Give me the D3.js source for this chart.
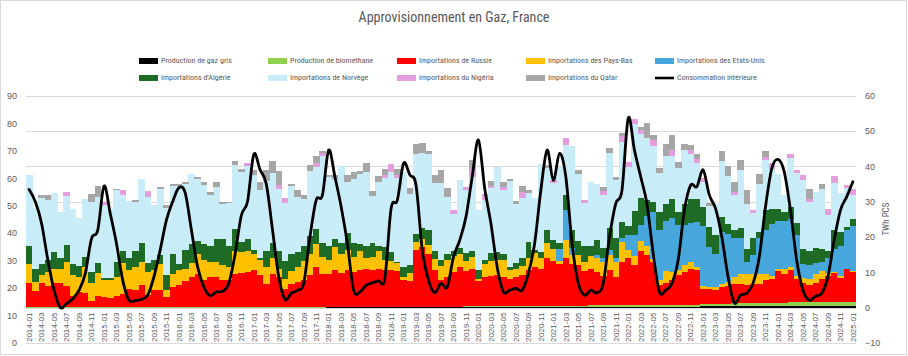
<!DOCTYPE html>
<html><head><meta charset="utf-8">
<script src="https://cdn.jsdelivr.net/npm/d3@7"></script>
<style>
html,body{margin:0;padding:0;background:#fff;}
svg{display:block;font-family:"Liberation Sans Narrow","Arial Narrow","Roboto Condensed","Liberation Sans",sans-serif;}
</style></head><body>
<svg id="chart" width="908" height="356"></svg>
<script>
const categories = [
"2014-01","2014-02","2014-03","2014-04","2014-05","2014-06","2014-07","2014-08","2014-09","2014-10","2014-11","2014-12",
"2015-01","2015-02","2015-03","2015-04","2015-05","2015-06","2015-07","2015-08","2015-09","2015-10","2015-11","2015-12",
"2016-01","2016-02","2016-03","2016-04","2016-05","2016-06","2016-07","2016-08","2016-09","2016-10","2016-11","2016-12",
"2017-01","2017-02","2017-03","2017-04","2017-05","2017-06","2017-07","2017-08","2017-09","2017-10","2017-11","2017-12",
"2018-01","2018-02","2018-03","2018-04","2018-05","2018-06","2018-07","2018-08","2018-09","2018-10","2018-11","2018-12",
"2019-01","2019-02","2019-03","2019-04","2019-05","2019-06","2019-07","2019-08","2019-09","2019-10","2019-11","2019-12",
"2020-01","2020-02","2020-03","2020-04","2020-05","2020-06","2020-07","2020-08","2020-09","2020-10","2020-11","2020-12",
"2021-01","2021-02","2021-03","2021-04","2021-05","2021-06","2021-07","2021-08","2021-09","2021-10","2021-11","2021-12",
"2022-01","2022-02","2022-03","2022-04","2022-05","2022-06","2022-07","2022-08","2022-09","2022-10","2022-11","2022-12",
"2023-01","2023-02","2023-03","2023-04","2023-05","2023-06","2023-07","2023-08","2023-09","2023-10","2023-11","2023-12",
"2024-01","2024-02","2024-03","2024-04","2024-05","2024-06","2024-07","2024-08","2024-09","2024-10","2024-11","2024-12",
"2025-01"];

// TWh PCS (right axis)
const gazGris = [
0.02,0.02,0.02,0.02,0.02,0.02,0.02,0.02,0.02,0.02,0.02,0.02,
0.02,0.02,0.02,0.02,0.02,0.02,0.02,0.02,0.02,0.02,0.02,0.02,
0.02,0.02,0.02,0.02,0.02,0.02,0.02,0.02,0.02,0.02,0.02,0.02,
0.02,0.02,0.02,0.02,0.02,0.02,0.02,0.02,0.02,0.02,0.02,0.02,
0.05,0.05,0.05,0.05,0.05,0.05,0.05,0.05,0.05,0.05,0.05,0.05,
0.05,0.05,0.05,0.05,0.05,0.05,0.05,0.05,0.05,0.05,0.05,0.05,
0.05,0.05,0.05,0.05,0.05,0.05,0.05,0.05,0.05,0.05,0.05,0.05,
0.1,0.1,0.1,0.1,0.1,0.1,0.1,0.1,0.1,0.1,0.1,0.1,
0.15,0.15,0.15,0.15,0.15,0.15,0.15,0.15,0.15,0.15,0.15,0.15,
0.35,0.35,0.35,0.35,0.35,0.35,0.35,0.35,0.35,0.35,0.35,0.35,
0.55,0.55,0.55,0.55,0.55,0.55,0.55,0.55,0.55,0.55,0.55,0.55,
0.5];
const biomethane = [
0.04,0.04,0.04,0.04,0.05,0.05,0.05,0.05,0.05,0.05,0.06,0.06,
0.06,0.06,0.06,0.06,0.06,0.06,0.06,0.07,0.07,0.07,0.07,0.07,
0.07,0.07,0.08,0.08,0.08,0.08,0.08,0.08,0.09,0.09,0.09,0.09,
0.09,0.09,0.1,0.1,0.1,0.1,0.1,0.1,0.11,0.11,0.12,0.12,
0.12,0.13,0.13,0.14,0.14,0.15,0.15,0.16,0.16,0.17,0.18,0.18,
0.19,0.2,0.21,0.22,0.23,0.24,0.25,0.26,0.27,0.28,0.29,0.3,
0.3,0.31,0.32,0.33,0.34,0.35,0.36,0.37,0.38,0.39,0.4,0.41,
0.42,0.44,0.46,0.48,0.5,0.5,0.52,0.53,0.55,0.57,0.58,0.6,
0.6,0.6,0.62,0.63,0.64,0.65,0.66,0.67,0.68,0.7,0.7,0.72,
0.75,0.77,0.79,0.8,0.82,0.84,0.85,0.86,0.87,0.88,0.89,0.9,
0.9,0.91,0.92,0.93,0.94,0.95,0.96,0.97,0.97,0.98,0.98,0.99,
1.0];
const russie = [
6.9,4.8,6.9,6.2,6.9,6.9,6.2,3.1,4.3,4.0,1.7,3.1,
2.9,2.7,3.1,3.7,5.3,4.8,6.2,3.4,4.8,5.0,2.9,5.7,
6.2,7.5,8.6,9.5,7.8,8.7,8.7,7.6,7.8,9.5,9.7,10.0,
10.5,9.0,6.5,9.3,8.7,5.3,6.7,7.2,7.8,9.0,11.4,9.5,
9.4,10.6,9.6,10.6,9.9,10.4,10.8,10.4,10.6,10.4,10.4,10.2,
7.6,7.3,16.1,16.9,15.0,10.5,7.4,8.4,9.8,11.2,10.1,10.5,
7.2,8.3,8.7,9.0,8.3,7.8,8.3,8.7,10.2,11.1,10.4,13.5,
12.8,11.8,13.6,11.9,11.4,9.9,10.4,9.4,8.4,9.9,7.9,12.2,
13.2,11.2,15.4,14.0,12.0,5.5,6.3,6.9,8.3,9.2,10.0,9.8,
4.2,4.2,4.0,4.6,5.1,5.6,5.6,5.1,5.6,5.6,6.6,6.8,
9.0,8.0,9.3,6.5,5.5,5.0,5.5,6.5,7.5,8.3,7.0,9.3,
8.5];
const paysBas = [
5.5,2.4,2.2,3.8,4.0,4.0,6.6,6.0,4.3,7.4,5.2,6.6,
4.9,5.1,5.6,8.8,5.4,6.6,6.6,6.6,5.7,7.4,2.1,3.6,
4.3,3.4,3.9,5.7,5.5,4.1,4.1,4.3,3.6,6.4,5.9,5.9,
4.7,4.3,4.9,4.5,2.0,2.8,3.5,4.2,5.3,6.2,6.6,4.7,
3.8,6.4,5.5,5.6,4.2,5.4,3.1,3.7,5.2,3.0,2.6,2.2,
0.9,2.2,2.2,2.3,2.6,3.1,4.0,4.7,4.4,3.8,2.8,3.5,
0.6,3.8,4.1,4.2,4.7,2.4,2.1,2.6,3.5,3.8,3.1,4.4,
3.3,0.8,4.9,2.5,2.8,2.5,3.5,4.0,3.8,4.3,4.3,5.7,
2.3,2.8,2.8,2.8,1.1,1.4,3.4,2.3,1.4,1.9,2.1,0.9,
0.8,0.6,0.6,1.0,0.9,1.9,2.8,3.3,2.8,2.8,1.8,1.0,
0.5,1.5,0.7,1.0,1.5,1.5,2.5,2.5,0.8,0.4,0.3,0.2,
0.3];
const etatsUnis = [
0,0,0,0,0,0,0,0,0,0,0,0,
0,0,0,0,0,0,0,0,0,0,0,0,
0,0,0,0,0,0,0,0,0,0,0,0,
0,0,0,0,0,0,0,0,0,0,0,0,
0,0,0,0,0,0,0,0,0,0,0,0,
0,0,0,0,0,0,0,0,0,0,0,0,
0,0,0,0,0,0,0,0,0,0,0,0,
0,3.5,8.5,2.0,0,0,0,0.8,1.1,1.4,1.1,1.0,
4.2,5.7,4.3,8.5,13.1,14.3,13.9,15.5,12.8,11.4,10.9,12.8,
17.1,11.2,9.5,14.6,13.7,11.1,10.2,3.4,5.4,10.0,12.4,14.5,
13.5,13.5,13.5,11.5,4.0,4.0,3.0,2.5,4.2,6.3,8.7,11.0,
12.7];
const algerie = [
5.0,3.6,3.3,3.5,4.7,3.1,5.0,3.3,3.0,3.0,3.1,2.9,
0.6,0.6,4.1,3.4,3.3,4.5,5.4,2.5,2.8,2.3,4.1,5.9,
1.9,5.4,5.3,3.6,4.7,4.5,6.4,7.3,5.9,6.4,2.9,3.5,
1.1,0.7,4.5,4.4,5.2,5.0,5.0,4.2,4.2,4.9,4.0,4.0,
4.0,2.3,3.0,4.7,4.0,1.9,3.3,4.0,1.4,3.6,2.5,0.3,
2.7,2.2,2.2,3.2,4.1,2.1,1.9,1.9,1.5,1.6,2.2,1.7,
2.6,1.1,2.2,2.1,1.9,0.9,1.8,2.2,4.5,1.1,1.8,3.6,
2.4,1.8,4.2,5.0,4.2,4.5,3.0,4.2,2.9,6.2,5.6,4.7,
2.8,7.0,7.7,4.5,3.0,5.0,4.8,5.1,3.7,5.9,7.0,6.5,
5.2,5.6,5.2,4.3,2.9,2.2,2.8,3.7,4.8,1.8,5.5,4.5,
3.5,2.5,3.5,3.5,4.0,4.0,4.5,3.5,2.0,5.5,4.0,0.8,
2.0];
const norvege = [
20.2,17.3,18.5,16.8,16.8,13.0,13.8,15.5,13.8,16.4,19.9,18.7,
20.6,19.5,20.3,16.0,16.1,13.8,18.0,18.7,15.8,18.7,19.0,19.2,
21.9,18.7,19.8,17.4,16.6,14.4,14.9,10.1,12.1,17.9,19.7,20.5,
21.1,19.1,19.9,19.9,17.7,16.3,19.1,15.6,13.3,18.4,17.7,24.6,
19.5,17.0,21.8,14.5,18.2,20.0,21.0,13.3,18.2,19.4,22.8,23.8,
27.0,20.2,22.8,21.2,21.6,19.2,21.7,15.9,10.6,19.3,17.9,20.9,
16.9,17.0,18.5,24.1,18.0,24.3,16.7,17.2,13.8,14.7,24.8,17.6,
16.2,21.5,14.4,23.7,18.8,12.2,18.1,16.1,15.1,21.3,16.6,22.6,
16.6,24.4,18.1,17.5,15.9,11.0,13.8,12.2,12.6,15.3,12.6,10.2,
7.3,6.0,9.0,16.0,13.4,9.9,16.5,12.7,7.0,13.7,14.3,11.2,
10.0,4.8,14.0,14.0,19.6,14.0,15.7,17.2,10.1,13.4,10.8,10.9,
6.8];
const nigeria = [
0,0,0,0,0,0,1.0,0,0,0,0,0,
0.8,0,0,1.2,0,0,0,1.6,0,0,0,0,
0,0,0,0,0,0,0,0,0,0,0,1.0,
0,0,0,0,0.9,1.4,0,0,0,0,1.2,0.9,
0,0,0,0,0,0,0,0,0,0.9,2.0,0.9,
0,0,0,0,0,0,0,0,1.1,0,0.9,2.4,
0,1.7,0.7,0,0.9,0,0,1.6,0,0,0,0,
1.0,0,1.9,0,0,0.9,0,0,1.1,0,0,1.6,
1.4,1.6,1.2,0,1.6,0,0,1.7,0,0,1.3,1.0,
0.9,0,0,0,0,0.9,0,0,0.9,0,0.8,1.7,
0,0,1.1,0.9,1.6,0.9,0,0,1.7,1.9,0,0.9,
1.7];
const qatar = [
0,0,0.8,1.6,0,0,0,0,0,0,2.2,3.0,
0,0,0.5,0,0,0.8,0,0,0,0.8,0.8,0.4,
0.5,0.5,0,0.7,0.9,0.9,1.4,0.5,0.4,1.3,0.9,0,
1.4,2.4,3.0,3.2,4.0,0,0.7,1.9,1.3,1.7,1.9,0.6,
0.7,1.0,0,1.9,1.9,0.7,2.6,1.3,1.6,1.6,0,1.7,
0,1.7,2.8,2.8,0.9,2.4,3.6,2.8,0,0,0,2.4,
0,0,1.4,0,1.4,0.7,0.9,1.6,1.0,0,0,0.8,
0,0,0,0,1.3,0,0,0,1.2,1.4,0.9,0.9,
0,0,0.9,4.3,1.5,1.4,3.2,4.4,1.5,1.9,1.3,1.5,
0,0.9,0,2.6,2.8,2.8,2.8,3.8,0,2.6,1.6,0,
0,0,0,0,0,2.6,0,1.4,0,0,0,0,
0];
// TWh (left axis)
const consommation = [
55.9,51.4,43.5,30.2,19.2,12.9,14.3,16.1,19.2,25.3,38.0,41.1,
57.1,47.1,36.2,22.8,15.6,15.4,15.9,17.4,24.1,33.8,44.7,51.4,
56.5,54.7,41.2,27.7,20.4,17.2,18.6,18.8,21.7,32.2,46.4,51.5,
68.6,63.1,57.9,41.2,24.1,15.9,18.1,19.2,21.7,38.6,52.0,53.8,
70.2,60.5,49.6,36.2,19.2,18.6,21.0,21.9,22.6,23.5,48.9,52.0,
65.4,61.2,57.4,33.8,22.8,18.3,21.7,20.4,31.3,37.4,45.9,60.5,
73.9,56.3,43.5,27.7,18.6,19.2,19.9,19.2,25.3,36.2,55.6,70.2,
59.2,69.0,60.5,36.2,21.7,17.4,19.2,18.3,21.7,38.6,50.7,55.6,
81.8,70.2,60.5,50.7,32.6,18.6,19.2,21.7,30.1,48.3,57.4,56.9,
63.0,53.8,48.9,38.6,24.1,14.6,17.4,18.1,21.7,31.3,49.6,63.5,
66.8,62.3,48.3,30.1,19.2,15.6,17.0,18.1,24.1,37.4,48.3,53.2,
58.7];

const leftTicks = [0,10,20,30,40,50,60,70,80,90];
const rightTicks = [-10,0,10,20,30,40,50,60];
const seriesKeys = ["gris","bio","ru","nl","us","dz","no","ng","qa"];
const seriesNames = ["Production de gaz gris","Production de biométhane","Importations de Russie","Importations des Pays-Bas","Importations des Etats-Unis","Importations d'Algérie","Importations de Norvège","Importations du Nigéria","Importations du Qatar"];
const seriesColors = ["#000000","#92d050","#ff0000","#ffc000","#47a6dc","#1e6b26","#c9ecf9","#e59edd","#a6a6a6"];
const lineName = "Consommation intérieure";
const titleText = "Approvisionnement en Gaz, France";
const rightAxisTitle = "TWh PCS";

const seriesArrays = [gazGris,biomethane,russie,paysBas,etatsUnis,algerie,norvege,nigeria,qatar];
const table = categories.map((c,i)=>{
  const o={cat:c};
  seriesKeys.forEach((k,j)=>o[k]=seriesArrays[j][i]);
  return o;
});

const svg = d3.select("#chart");
const grey = "#595959";
svg.append("rect").attr("x",0.5).attr("y",0.5).attr("width",906).attr("height",354)
  .attr("fill","#fff").attr("stroke","#d9d9d9");

const x = d3.scaleBand().domain(categories).range([26,856]).padding(0);
const yR = d3.scaleLinear().domain([-10,60]).range([343,95.7]);
const yL = d3.scaleLinear().domain([0,90]).range([343,95.7]);

// gridlines
svg.append("g").selectAll("line").data(rightTicks).join("line")
  .attr("x1",26).attr("x2",856)
  .attr("y1",d=>Math.round(yR(d))+0.5).attr("y2",d=>Math.round(yR(d))+0.5)
  .attr("stroke","#d9d9d9").attr("stroke-width",1);

// stacked bars
const stack = d3.stack().keys(seriesKeys)(table);
const colorOf = d3.scaleOrdinal().domain(seriesKeys).range(seriesColors);
svg.append("g").attr("shape-rendering","crispEdges")
  .selectAll("g").data(stack).join("g").attr("fill",d=>colorOf(d.key))
  .selectAll("rect").data(d=>d).join("rect")
  .attr("x",d=>x(d.data.cat)).attr("width",x.bandwidth()+0.3)
  .attr("y",d=>yR(d[1])).attr("height",d=>Math.max(0,yR(d[0])-yR(d[1])));

// consumption line (left axis)
const line = d3.line()
  .x((d,i)=>x(categories[i])+x.bandwidth()/2)
  .y(d=>yL(d))
  .curve(d3.curveCardinal.tension(0));
svg.append("path").datum(consommation).attr("d",line)
  .attr("fill","none").attr("stroke","#000").attr("stroke-width",2.8)
  .attr("stroke-linejoin","round").attr("stroke-linecap","round");

// left axis
const gL = svg.append("g").attr("transform","translate(26,0)")
  .call(d3.axisLeft(yL).tickValues(leftTicks).tickSize(0).tickPadding(9));
gL.select(".domain").remove();
gL.selectAll("text").attr("fill",grey).attr("font-size",9).style("font-family","inherit");

// right axis
const gR = svg.append("g").attr("transform","translate(856,0)")
  .call(d3.axisRight(yR).tickValues(rightTicks).tickSize(0).tickPadding(9));
gR.select(".domain").remove();
gR.selectAll("text").attr("fill",grey).attr("font-size",9).style("font-family","inherit");

svg.append("text").attr("transform","translate(887,219) rotate(-90)")
  .attr("text-anchor","middle").attr("dominant-baseline","middle")
  .attr("fill",grey).attr("font-size",9).text(rightAxisTitle);

// x axis
const gX = svg.append("g").attr("transform",`translate(0,${yR(0)})`)
  .call(d3.axisBottom(x).tickValues(categories.filter((d,i)=>i%2===0)).tickSize(0));
gX.select(".domain").remove();
gX.selectAll("text").attr("fill",grey).attr("font-size",8).style("font-family","inherit")
  .attr("transform","rotate(-90)").attr("x",-5).attr("y",0).attr("dy","0.35em")
  .attr("text-anchor","end");

// title
svg.append("text").attr("x",454).attr("y",22).attr("text-anchor","middle")
  .attr("fill",grey).attr("font-size",14).text(titleText);

// legend
const legendItems = seriesNames.map((n,i)=>({name:n,color:seriesColors[i],type:"rect"}))
  .concat([{name:lineName,color:"#000",type:"line"}]);
const colX = [139,268,397,526,655];
const rowY = [61,78];
const lg = svg.append("g");
legendItems.forEach((it,i)=>{
  const cx = colX[i%5], cy = rowY[Math.floor(i/5)];
  if(it.type==="rect"){
    lg.append("rect").attr("x",cx).attr("y",cy-3).attr("width",19).attr("height",6).attr("fill",it.color);
  } else {
    lg.append("line").attr("x1",cx).attr("x2",cx+19).attr("y1",cy).attr("y2",cy)
      .attr("stroke",it.color).attr("stroke-width",2.6);
  }
  lg.append("text").attr("x",cx+22).attr("y",cy).attr("dominant-baseline","middle")
    .attr("fill",grey).attr("font-size",8).text(it.name);
});
</script>
</body></html>
